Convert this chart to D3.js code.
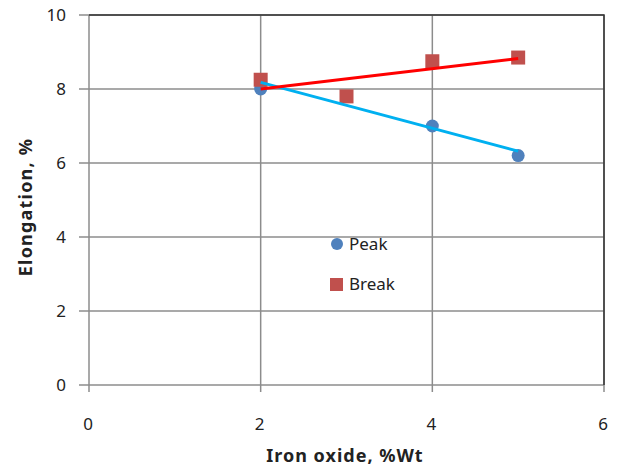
<!DOCTYPE html>
<html>
<head>
<script src="https://cdn.jsdelivr.net/npm/d3@7"></script>
<style>
  body { margin: 0; background: #fff; }
  text { font-family: "Noto Sans", "Open Sans", sans-serif; fill: #222; }
</style>
</head>
<body>
<svg id="chart" width="619" height="468"></svg>
<script>
// data
const peakX = [2, 3, 4, 5];
const peakY = [8.0, 7.8, 7.0, 6.2];
const breakX = [2, 3, 4, 5];
const breakY = [8.25, 7.8, 8.75, 8.85];
const xTicks = [0, 2, 4, 6];
const yTicks = [0, 2, 4, 6, 8, 10];
const seriesNames = ["Peak", "Break"];

const svg = d3.select("#chart");
const x = d3.scaleLinear().domain([0, 6]).range([89, 604]);
const y = d3.scaleLinear().domain([0, 10]).range([385, 15]);

// least squares trend line
function fit(xs, ys) {
  const mx = d3.mean(xs), my = d3.mean(ys);
  const sxy = d3.sum(xs, (v, i) => (v - mx) * (ys[i] - my));
  const sxx = d3.sum(xs, v => (v - mx) * (v - mx));
  const b = sxy / sxx;
  return v => my + b * (v - mx);
}

// grid
svg.append("g").selectAll("line").data(yTicks).join("line")
  .attr("x1", 79).attr("x2", 604)
  .attr("y1", d => y(d)).attr("y2", d => y(d))
  .attr("stroke", "#8c8c8c").attr("stroke-width", 1.5);
svg.append("g").selectAll("line").data(xTicks).join("line")
  .attr("x1", d => x(d)).attr("x2", d => x(d))
  .attr("y1", 15).attr("y2", 392)
  .attr("stroke", "#8c8c8c").attr("stroke-width", 1.5);
// top and right border
svg.append("path")
  .attr("d", `M${x(0)},${y(10)}H${x(6)}V${y(0)}`)
  .attr("fill", "none").attr("stroke", "#333").attr("stroke-width", 1.5);

// tick labels
svg.append("g").selectAll("text").data(yTicks).join("text")
  .attr("x", 66).attr("y", d => y(d) + 6)
  .attr("text-anchor", "end").attr("font-size", 17)
  .text(d => d);
svg.append("g").selectAll("text").data(xTicks).join("text")
  .attr("x", d => x(d) - 1).attr("y", 430)
  .attr("text-anchor", "middle").attr("font-size", 17)
  .text(d => d);

// axis titles
svg.append("text")
  .attr("x", 345).attr("y", 462)
  .attr("text-anchor", "middle").attr("font-size", 18).attr("font-weight", "bold")
  .attr("letter-spacing", 1)
  .text("Iron oxide, %Wt");
svg.append("text")
  .attr("transform", "translate(32,207) rotate(-90)")
  .attr("text-anchor", "middle").attr("font-size", 18).attr("font-weight", "bold")
  .attr("letter-spacing", 1.2)
  .text("Elongation, %");

// peak points (under break markers)
svg.append("g").selectAll("circle").data(peakX).join("circle")
  .attr("cx", d => x(d)).attr("cy", (d, i) => y(peakY[i])).attr("r", 6.5)
  .attr("fill", "#4f81bd");
svg.append("g").selectAll("rect").data(breakX).join("rect")
  .attr("x", d => x(d) - 7).attr("y", (d, i) => y(breakY[i]) - 7)
  .attr("width", 14).attr("height", 14)
  .attr("fill", "#c0504d");

// trend lines
const peakFit = fit(peakX, peakY);
const breakFit = fit(breakX, breakY);
const ends = [2, 5];
svg.append("line")
  .attr("x1", x(ends[0])).attr("y1", y(peakFit(ends[0])))
  .attr("x2", x(ends[1])).attr("y2", y(peakFit(ends[1])))
  .attr("stroke", "#00b0f0").attr("stroke-width", 3);
svg.append("line")
  .attr("x1", x(ends[0])).attr("y1", y(breakFit(ends[0])))
  .attr("x2", x(ends[1])).attr("y2", y(breakFit(ends[1])))
  .attr("stroke", "#ff0000").attr("stroke-width", 3);

// legend
const leg = svg.append("g").attr("transform", "translate(337,244)");
leg.append("circle").attr("cx", 0).attr("cy", 0).attr("r", 6).attr("fill", "#4f81bd");
leg.append("rect").attr("x", -7).attr("y", 34).attr("width", 13).attr("height", 13).attr("fill", "#c0504d");
leg.selectAll("text").data(seriesNames).join("text")
  .attr("x", 12).attr("y", (d, i) => 6 + i * 40)
  .attr("font-size", 17)
  .text(d => d);
</script>
</body>
</html>
